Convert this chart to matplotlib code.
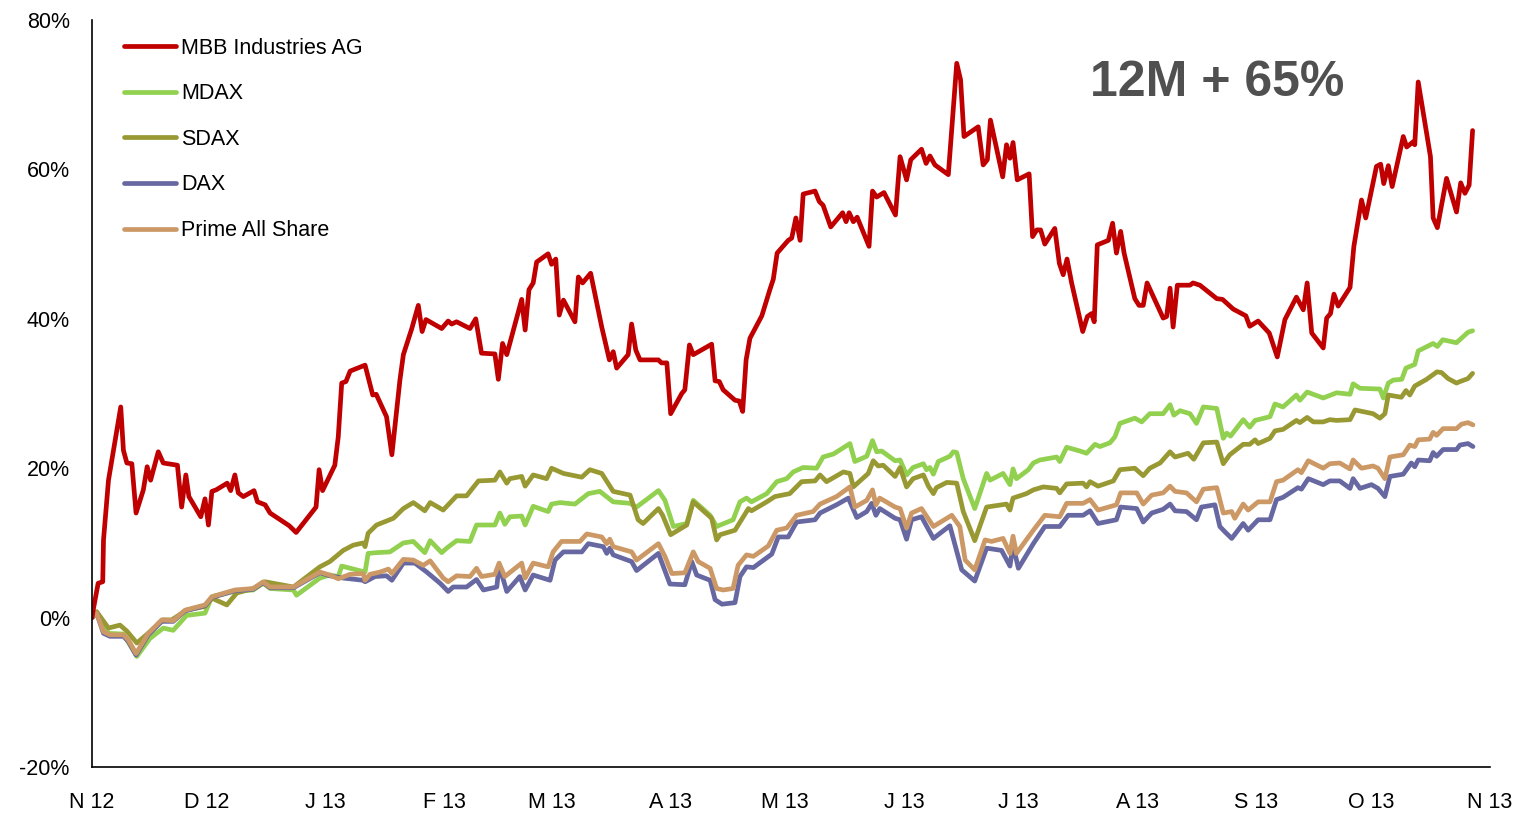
import matplotlib
matplotlib.use("Agg")
import matplotlib.pyplot as plt

plt.rcParams['font.family'] = ['Liberation Sans', 'DejaVu Sans']

# x: days since 1 Nov 2012, y: performance in %
mbb_x = [0, 0.3, 1.6, 2.8, 3.0, 4.3, 7.5, 8.2, 9.1, 10.4, 11.5, 13.4, 14.4, 15.3, 17.3, 18.6, 22.3, 23.4, 24.5, 25.3,
         28.4, 29.5, 30.4, 31.3, 32.4, 35.3, 36.2, 37.3, 38.2, 39.5, 42.3, 43.2, 45.2, 46.5, 51.5, 53.3, 58.5, 59.3, 60.2, 63.4,
         64.3, 65.2, 66.3, 67.4, 71.3, 73.3, 74.2, 76.9, 78.3, 80.4, 81.3, 83.5, 85.2, 86.2, 87.2, 91.3, 93.0, 93.9, 95.2, 98.7,
         100.2, 101.7, 105.2, 106.1, 107.2, 108.3, 112.2, 113.1, 114.1, 115.2, 116.1, 119.1, 120.0, 121.1, 122.0, 123.1, 126.1, 127.0, 128.1, 130.2,
         133.1, 135.1, 136.1, 137.0, 140.0, 140.9, 142.0, 143.1, 147.9, 148.7, 150.1, 151.1, 154.0, 154.8, 156.0, 157.0, 161.8, 162.7, 163.8, 164.8,
         167.9, 169.0, 169.9, 170.8, 171.8, 174.9, 177.0, 177.9, 178.9, 181.8, 182.7, 183.8, 184.9, 185.7, 188.8, 189.9, 190.9, 192.9, 196.0, 196.9,
         197.7, 198.8, 199.8, 202.9, 203.8, 204.9, 206.8, 209.8, 211.0, 212.7, 213.8, 216.6, 217.8, 218.8, 220.1, 223.6, 225.8, 226.8, 227.7, 231.4,
         232.7, 233.8, 234.6, 237.8, 238.8, 239.7, 240.5, 241.6, 244.7, 245.6, 246.7, 247.7, 248.8, 251.4, 252.6, 253.6, 254.6, 255.8, 258.7, 259.9,
         261.0, 261.7, 262.5, 265.4, 266.5, 267.5, 268.6, 269.5, 272.3, 273.4, 274.5, 275.5, 279.7, 280.6, 281.5, 282.3, 283.4, 286.7, 287.5, 289.3,
         293.7, 295.2, 298.0, 301.3, 302.3, 304.5, 307.4, 309.5, 311.5, 314.5, 316.3, 317.3, 318.5, 321.5, 322.4, 323.4, 324.3, 325.4, 328.5, 329.5,
         331.5, 332.6, 335.4, 336.5, 337.3, 338.5, 339.5, 342.4, 343.3, 345.0, 345.4, 346.3, 349.5, 350.2, 351.3, 353.7, 356.3, 357.4, 358.5, 359.6,
         360.5]
mbb_y = [0, 1.0, 4.6, 4.8, 10.4, 18.4, 28.2, 22.4, 20.7, 20.6, 14.0, 17.1, 20.2, 18.4, 22.2, 20.7, 20.4, 14.8, 19.1, 16.2,
         13.5, 15.9, 12.4, 16.9, 17.1, 18.0, 17.0, 19.1, 16.7, 16.2, 17.0, 15.5, 15.1, 14.0, 12.3, 11.4, 14.8, 19.8, 17.0, 20.4,
         24.2, 31.4, 31.6, 33.0, 33.8, 29.8, 29.9, 26.9, 21.8, 31.8, 35.2, 38.7, 41.8, 38.3, 39.9, 38.7, 39.7, 39.3, 39.6, 38.7,
         40.0, 35.4, 35.3, 31.9, 36.7, 35.2, 42.6, 38.5, 43.9, 44.8, 47.6, 48.7, 47.3, 48.0, 40.5, 42.5, 39.6, 45.6, 44.8, 46.1,
         38.9, 34.5, 35.6, 33.4, 35.2, 39.3, 35.8, 34.5, 34.5, 34.1, 34.1, 27.3, 30.0, 30.5, 36.5, 35.2, 36.6, 31.7, 31.6, 30.5,
         29.1, 29.0, 27.6, 34.5, 37.4, 40.4, 43.9, 45.3, 48.8, 50.5, 50.8, 53.5, 50.5, 56.7, 57.1, 55.7, 55.2, 52.3, 54.2, 53.0,
         54.2, 53.0, 53.6, 49.7, 57.1, 56.3, 56.9, 53.9, 61.7, 58.6, 61.3, 62.7, 60.8, 61.8, 60.6, 59.3, 74.2, 72.0, 64.4, 65.7,
         60.6, 61.3, 66.6, 59.0, 63.3, 61.5, 63.6, 58.6, 59.4, 51.0, 51.9, 51.9, 50.0, 52.1, 47.4, 45.9, 48.0, 44.8, 38.3, 40.3,
         40.7, 39.6, 49.9, 50.5, 52.8, 48.8, 51.7, 48.8, 42.7, 41.8, 41.8, 44.8, 40.1, 40.3, 44.1, 38.9, 44.5, 44.5, 44.8, 44.5,
         42.7, 42.6, 41.3, 40.4, 39.0, 39.7, 38.1, 34.9, 39.9, 42.9, 41.2, 44.8, 38.1, 36.1, 40.1, 40.7, 43.3, 41.7, 44.2, 49.7,
         55.9, 53.5, 60.4, 60.7, 58.1, 60.5, 57.7, 64.4, 63.0, 63.7, 63.3, 71.7, 61.7, 53.5, 52.2, 58.8, 54.3, 58.2, 56.8, 57.9,
         65.2]

mdax_x = [0, 1.2, 4.3, 8.2, 11.7, 15.1, 18.6, 21.2, 24.7, 29.5, 31.3, 36.9, 42.1, 44.7, 46.5, 52.6, 53.4, 59.5, 62.1, 64.3,
          65.2, 71.3, 72.1, 74.3, 77.8, 81.3, 83.9, 86.9, 88.3, 91.3, 92.6, 95.2, 98.7, 100.4, 105.2, 106.5, 107.8, 109.1, 112.2, 113.1,
          115.2, 119.1, 120.0, 122.2, 126.1, 129.6, 132.6, 136.1, 140.5, 142.2, 147.9, 149.6, 151.8, 155.3, 157.0, 161.4, 163.1, 167.4, 169.2, 170.9,
          172.2, 176.2, 178.8, 181.4, 183.1, 185.7, 189.2, 190.9, 193.6, 197.9, 199.2, 202.3, 203.8, 204.9, 206.2, 209.7, 211.0, 212.7, 214.4, 217.1,
          217.9, 218.8, 219.7, 221.0, 224.0, 224.9, 225.8, 227.5, 230.5, 233.6, 234.5, 237.9, 239.7, 240.5, 241.4, 244.5, 245.8, 247.5, 251.9, 252.7,
          254.5, 258.0, 259.7, 261.9, 263.2, 265.8, 267.1, 268.4, 272.3, 274.1, 276.2, 279.7, 281.5, 282.5, 284.1, 286.7, 288.4, 290.2, 293.7, 295.4,
          296.3, 297.3, 300.6, 302.3, 303.7, 307.6, 308.9, 311.0, 314.5, 315.4, 317.3, 321.5, 325.0, 328.5, 329.3, 331.1, 336.3, 337.2, 338.5, 339.8,
          342.0, 343.1, 345.4, 346.3, 350.2, 351.3, 352.7, 356.3, 359.3, 360.5]
mdax_y = [0, 0.7, -2.1, -2.2, -5.2, -2.8, -1.4, -1.7, 0.3, 0.6, 2.8, 3.5, 3.7, 4.6, 3.9, 3.7, 3.0, 5.3, 5.7, 5.5,
          6.9, 6.1, 8.6, 8.7, 8.8, 10.0, 10.2, 8.7, 10.3, 8.7, 9.3, 10.3, 10.2, 12.4, 12.4, 14.0, 12.5, 13.5, 13.6, 12.4,
          14.9, 14.2, 15.2, 15.4, 15.2, 16.6, 16.9, 15.5, 15.3, 14.8, 17.0, 15.7, 12.2, 12.6, 15.7, 13.7, 12.2, 13.1, 15.5, 16.0,
          15.5, 16.6, 18.2, 18.6, 19.5, 20.1, 20.0, 21.5, 21.9, 23.3, 20.9, 21.6, 23.7, 22.2, 22.3, 21.0, 21.1, 19.1, 20.1, 20.6,
          19.8, 20.1, 19.2, 20.9, 21.6, 22.2, 22.1, 18.6, 14.6, 19.3, 18.4, 19.3, 17.8, 19.9, 18.6, 19.8, 20.7, 21.1, 21.5, 20.9,
          22.8, 22.3, 22.0, 23.2, 22.9, 23.4, 24.2, 26.0, 26.7, 26.2, 27.3, 27.3, 28.5, 27.1, 27.7, 27.3, 26.0, 28.2, 28.0, 24.0,
          24.7, 24.3, 26.5, 25.5, 26.4, 26.9, 28.6, 28.2, 29.8, 29.1, 30.2, 29.4, 30.1, 29.9, 31.3, 30.7, 30.6, 29.4, 31.4, 31.8,
          31.9, 33.4, 33.9, 35.7, 36.7, 36.3, 37.2, 36.8, 38.2, 38.4]

sdax_x = [0, 1.2, 4.3, 7.3, 9.1, 11.7, 15.1, 18.6, 20.8, 24.7, 29.5, 31.3, 35.2, 37.8, 42.1, 45.2, 52.6, 59.5, 62.1, 65.6,
          68.2, 70.8, 71.3, 72.1, 74.3, 78.7, 81.3, 83.9, 86.9, 88.3, 91.7, 95.2, 97.8, 100.9, 105.2, 106.5, 108.3, 109.1, 112.2, 113.1,
          115.2, 118.7, 120.0, 123.1, 127.9, 130.0, 133.1, 136.1, 140.5, 142.6, 143.9, 147.9, 149.0, 151.1, 155.3, 157.0, 161.8, 163.1, 164.0, 167.9,
          171.4, 172.2, 176.2, 178.3, 182.2, 185.3, 188.8, 190.1, 191.8, 196.2, 197.9, 198.8, 202.7, 204.0, 205.3, 206.6, 209.7, 211.0, 212.7, 214.4,
          217.1, 218.4, 219.7, 220.5, 223.2, 225.8, 227.5, 230.5, 233.6, 238.8, 239.7, 240.5, 244.0, 245.8, 248.4, 251.9, 252.7, 254.5, 258.8, 259.7,
          260.6, 262.7, 266.7, 268.4, 272.3, 274.5, 276.2, 278.9, 281.5, 282.8, 286.2, 287.7, 290.2, 293.7, 295.4, 297.1, 300.6, 302.3, 303.7, 304.5,
          307.6, 308.9, 311.0, 314.5, 315.4, 317.3, 318.9, 321.5, 323.2, 325.0, 328.5, 329.8, 334.5, 336.3, 337.6, 338.5, 341.9, 343.1, 344.1, 345.4,
          348.5, 351.2, 352.4, 354.1, 356.3, 357.2, 359.3, 360.5]
sdax_y = [0, 0.8, -1.4, -1.0, -1.8, -3.4, -1.9, -0.3, -0.3, 1.0, 1.5, 2.6, 1.7, 3.3, 3.9, 4.8, 4.1, 6.8, 7.5, 9.0,
          9.7, 10.0, 9.5, 11.3, 12.4, 13.3, 14.6, 15.4, 14.3, 15.4, 14.4, 16.3, 16.3, 18.3, 18.4, 19.5, 18.0, 18.6, 18.9, 17.6,
          19.1, 18.6, 20.0, 19.3, 18.8, 19.8, 19.3, 16.9, 16.4, 13.1, 12.6, 14.6, 13.7, 11.1, 12.4, 15.5, 13.3, 10.4, 11.1, 11.7,
          14.6, 14.3, 15.5, 16.2, 16.6, 18.2, 18.3, 19.1, 18.2, 19.5, 19.3, 17.5, 19.3, 21.0, 20.3, 20.4, 18.9, 20.1, 17.5, 18.6,
          19.1, 17.6, 16.6, 17.4, 18.1, 18.0, 14.2, 10.3, 14.8, 15.2, 14.4, 16.0, 16.6, 17.1, 17.5, 17.3, 16.7, 17.9, 18.0, 17.5,
          18.2, 17.6, 18.3, 19.8, 20.0, 19.0, 20.0, 20.7, 22.2, 21.5, 22.0, 21.2, 23.4, 23.5, 20.6, 21.8, 23.2, 23.2, 23.8, 23.3,
          24.0, 25.0, 25.2, 26.4, 26.1, 26.8, 26.2, 26.2, 26.5, 26.4, 26.5, 27.8, 27.3, 26.7, 27.3, 29.8, 29.5, 30.4, 29.8, 31.0,
          31.9, 32.9, 32.8, 32.0, 31.4, 31.6, 32.0, 32.7]

dax_x = [0, 1.2, 3.0, 4.7, 8.2, 9.5, 11.5, 14.7, 18.2, 21.2, 24.3, 29.5, 31.3, 37.3, 42.1, 44.7, 46.5, 52.6, 59.5, 62.1,
         65.6, 70.8, 71.3, 73.9, 76.9, 78.3, 81.3, 84.3, 87.4, 90.9, 93.0, 94.3, 97.8, 100.4, 102.2, 105.7, 106.3, 108.3, 111.7, 113.1,
         115.2, 119.6, 120.9, 123.1, 127.9, 129.6, 133.5, 134.4, 135.2, 136.1, 140.9, 142.2, 147.9, 150.9, 154.8, 156.6, 157.9, 161.4, 162.7, 164.5,
         167.9, 169.2, 170.9, 172.7, 177.5, 179.2, 181.8, 184.0, 188.8, 190.1, 194.4, 197.5, 199.7, 202.3, 203.6, 204.7, 205.7, 209.7, 211.0, 212.7,
         214.0, 216.6, 219.7, 224.0, 227.1, 230.5, 233.6, 237.5, 239.7, 240.5, 241.9, 245.8, 248.8, 252.7, 254.9, 258.8, 260.6, 262.7, 267.5, 268.6,
         272.8, 274.5, 276.7, 279.7, 281.5, 282.8, 285.8, 288.4, 289.7, 293.2, 294.5, 295.8, 297.6, 300.6, 301.9, 304.5, 307.6, 309.3, 311.0, 314.9,
         315.8, 317.6, 321.5, 323.2, 325.8, 328.5, 329.3, 331.1, 334.1, 335.8, 337.6, 338.9, 342.4, 344.5, 345.4, 346.3, 349.3, 350.2, 351.1, 352.8,
         356.3, 357.2, 359.3, 360.6]
dax_y = [0, 0.6, -2.1, -2.5, -2.5, -3.2, -5.0, -2.3, -0.5, -0.5, 0.9, 1.6, 2.7, 3.6, 3.8, 4.7, 4.0, 4.0, 6.0, 5.6,
         5.3, 5.0, 4.8, 5.5, 5.6, 5.0, 7.3, 7.3, 6.1, 4.6, 3.5, 4.1, 4.1, 5.1, 3.7, 4.1, 7.0, 3.5, 5.5, 3.7,
         5.7, 5.0, 7.7, 8.8, 8.8, 9.9, 9.5, 8.6, 9.3, 8.4, 7.5, 6.3, 8.6, 4.5, 4.4, 7.5, 5.7, 5.0, 2.4, 1.8,
         2.0, 5.5, 6.8, 6.7, 8.5, 10.8, 10.8, 12.8, 13.1, 14.0, 15.1, 16.0, 13.4, 14.2, 15.3, 13.7, 14.6, 13.3, 13.1, 10.5,
         13.1, 13.5, 10.6, 12.3, 6.4, 4.9, 9.3, 9.0, 6.9, 9.7, 6.6, 9.9, 12.2, 12.2, 13.7, 13.7, 14.3, 12.6, 13.1, 14.8,
         14.6, 12.8, 14.0, 14.5, 15.2, 14.3, 14.2, 13.1, 14.8, 15.1, 12.2, 11.5, 10.6, 12.6, 11.7, 13.1, 13.1, 15.8, 16.1, 17.4,
         17.2, 18.6, 17.8, 18.3, 18.3, 17.3, 18.6, 17.3, 17.8, 17.3, 16.2, 18.9, 19.2, 20.7, 20.2, 21.1, 21.0, 22.1, 21.6, 22.5,
         22.5, 23.1, 23.3, 22.9]

prime_x = [0, 1.2, 3.0, 4.7, 8.2, 9.5, 11.5, 14.7, 18.2, 21.2, 24.3, 29.5, 31.3, 37.3, 42.1, 44.7, 46.5, 52.6, 59.5, 62.1,
           64.3, 67.4, 70.8, 71.3, 72.6, 75.2, 77.4, 78.3, 81.3, 83.9, 86.5, 88.3, 91.7, 93.0, 95.2, 98.7, 100.4, 101.7, 105.2, 106.3,
           107.8, 112.2, 113.1, 115.2, 119.1, 120.4, 122.6, 127.4, 129.2, 133.1, 134.4, 135.2, 136.1, 140.9, 142.2, 147.9, 149.6, 151.4, 154.8, 157.0,
           158.3, 161.4, 163.1, 164.8, 167.4, 168.7, 170.9, 172.7, 176.6, 178.8, 181.4, 184.0, 188.3, 190.1, 194.4, 197.9, 199.2, 202.3, 203.8, 204.7,
           205.7, 209.7, 211.0, 212.7, 214.0, 216.6, 219.7, 224.5, 226.6, 228.0, 230.5, 233.2, 234.9, 237.9, 239.7, 240.5, 241.4, 245.8, 248.8, 252.7,
           254.5, 258.8, 260.6, 262.7, 267.5, 268.6, 272.8, 274.5, 276.7, 279.7, 281.5, 282.8, 285.8, 288.4, 290.2, 293.7, 295.4, 297.6, 298.4, 300.6,
           301.9, 304.5, 307.6, 309.3, 311.0, 314.9, 315.8, 317.6, 321.5, 323.2, 325.8, 328.5, 329.3, 331.5, 334.5, 335.8, 337.6, 338.9, 342.4, 344.1,
           345.4, 346.3, 349.3, 350.2, 351.1, 352.8, 356.3, 357.6, 359.3, 360.6]
prime_y = [0, 0.6, -1.9, -2.3, -2.3, -3.0, -4.8, -2.1, -0.3, -0.4, 1.0, 1.7, 2.8, 3.7, 3.9, 4.8, 4.1, 4.1, 6.1, 5.7,
           5.2, 5.8, 5.9, 5.0, 5.8, 6.1, 6.5, 5.9, 7.8, 7.7, 7.0, 7.6, 5.3, 4.8, 5.6, 5.5, 6.6, 5.5, 5.8, 7.3,
           5.5, 7.3, 5.3, 7.3, 6.8, 8.8, 10.2, 10.2, 11.2, 10.8, 9.9, 10.5, 9.5, 8.8, 7.7, 9.9, 8.2, 5.9, 6.0, 8.8,
           7.5, 6.6, 3.9, 3.7, 3.9, 7.0, 8.4, 8.2, 9.6, 11.7, 12.0, 13.7, 14.2, 15.2, 16.2, 17.5, 14.8, 15.7, 17.1, 15.1,
           16.0, 14.8, 14.6, 12.0, 14.0, 14.6, 12.2, 13.7, 12.2, 7.7, 6.4, 10.4, 10.2, 10.6, 8.6, 10.9, 8.6, 11.7, 13.7, 13.5,
           15.3, 15.3, 15.8, 14.4, 15.1, 16.7, 16.7, 15.2, 16.4, 16.7, 17.6, 16.9, 16.7, 15.5, 17.2, 17.4, 14.0, 14.2, 13.3, 15.2,
           14.4, 15.5, 15.5, 18.2, 18.4, 19.8, 19.4, 21.0, 20.0, 20.6, 20.7, 19.9, 21.1, 20.0, 20.3, 20.0, 18.6, 21.5, 21.8, 23.1,
           22.9, 23.8, 23.9, 24.8, 24.4, 25.3, 25.3, 25.9, 26.1, 25.8]

series_names = ["MBB Industries AG", "MDAX", "SDAX", "DAX", "Prime All Share"]
series_colors = ["#C00000", "#92D050", "#999933", "#6767A1", "#CC9966"]

month_ticks = [0, 30, 61, 92, 120, 151, 181, 212, 242, 273, 304, 334, 365]
month_labels = ["N 12", "D 12", "J 13", "F 13", "M 13", "A 13", "M 13", "J 13", "J 13", "A 13", "S 13", "O 13", "N 13"]
y_ticks = [-20, 0, 20, 40, 60, 80]
headline = "12M + 65%"

fig = plt.figure(figsize=(15.21, 8.16), dpi=100)
ax = fig.add_axes([0.0605, 0.06, 0.919, 0.9155])

data = [(mbb_x, mbb_y), (mdax_x, mdax_y), (sdax_x, sdax_y), (dax_x, dax_y), (prime_x, prime_y)]
draw_order = [1, 2, 3, 4, 0]
lines = {}
for i in draw_order:
    xs, ys = data[i]
    ln, = ax.plot(xs, ys, color=series_colors[i], lw=3.4, solid_joinstyle='round',
                  solid_capstyle='round', label=series_names[i])
    lines[i] = ln

ax.set_xlim(0, 365)
ax.set_ylim(-20, 80)
ax.set_xticks(month_ticks)
ax.set_xticklabels(month_labels)
ax.set_yticks(y_ticks)
ax.set_yticklabels([f"{v}%" for v in y_ticks])
ax.tick_params(axis='both', length=0, labelsize=15.5, colors='black')
ax.tick_params(axis='x', pad=18)
ax.tick_params(axis='y', pad=16)
for s in ['top', 'right']:
    ax.spines[s].set_visible(False)
for s in ['left', 'bottom']:
    ax.spines[s].set_linewidth(1.2)
    ax.spines[s].set_color('black')

leg = ax.legend([lines[i] for i in range(5)], series_names, loc='upper left',
                bbox_to_anchor=(0.009, 1.002), frameon=False, fontsize=15.5,
                handlelength=2.4, handletextpad=0.25, labelspacing=1.14)

ax.text(0.805, 0.915, headline, transform=ax.transAxes, fontsize=36, fontweight='bold',
        color='#505050', ha='center', va='center')

fig.savefig("out.png", dpi=100)
